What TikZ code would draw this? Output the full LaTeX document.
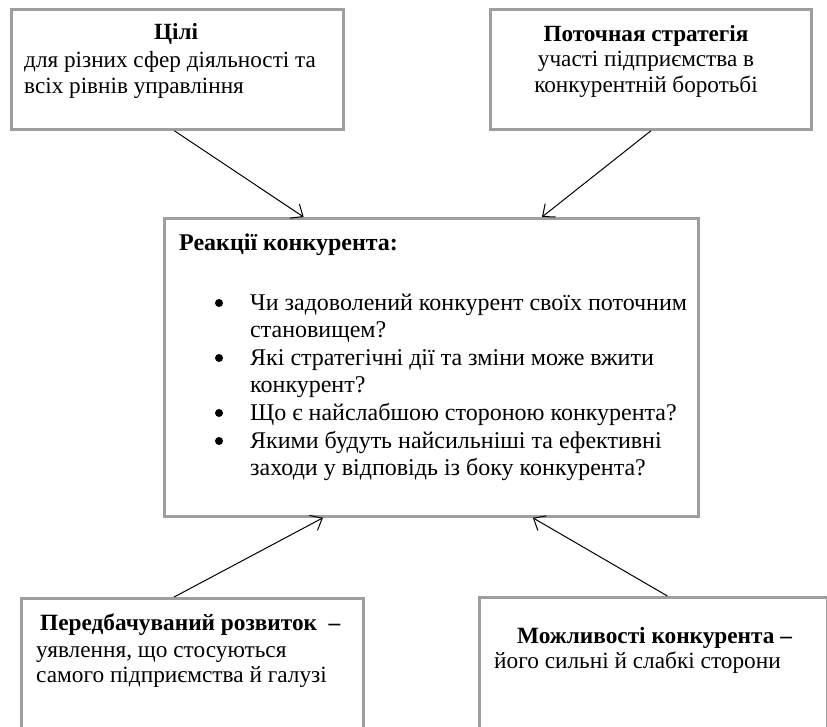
\documentclass[tikz,border=0pt]{standalone}
\usepackage{fontspec}
\setmainfont{Liberation Serif}
\usetikzlibrary{arrows.meta,calc}
\begin{document}
\begin{tikzpicture}[x=1pt,y=-1pt,
  box/.style={draw=black!38, line width=2.8pt, rectangle, inner sep=0pt, anchor=north west},
  conn/.style={draw=black, line width=1pt, -{Straight Barb[length=10pt,width=17pt,line width=1pt]}},
  small/.style={inner sep=0pt, font=\fontsize{23.2}{26}\selectfont},
  smallb/.style={inner sep=0pt, font=\fontsize{23.2}{26}\selectfont\bfseries},
  big/.style={inner sep=0pt, font=\fontsize{24}{27.5}\selectfont},
  bigb/.style={inner sep=0pt, font=\fontsize{24}{27.5}\selectfont\bfseries},
  bul/.style={circle, fill=black, inner sep=0pt, minimum size=8pt},
  mid/.style={inner sep=0pt, font=\fontsize{23.3}{26}\selectfont},
  midb/.style={inner sep=0pt, font=\fontsize{23.3}{26}\selectfont\bfseries}]
\useasboundingbox (0,0) rectangle (827,726);
\fill[white] (0,0) rectangle (827,726);
% boxes
\node[box, minimum width=332pt, minimum height=120pt] (tl) at (10,8) {};
\node[box, minimum width=321pt, minimum height=120pt] (tr) at (489,8) {};
\node[box, minimum width=534pt, minimum height=298pt] (c) at (163,217) {};
\node[box, minimum width=342pt, minimum height=134pt] (bl) at (20,597) {};
\node[box, minimum width=348pt, minimum height=134pt] (br) at (478,596) {};
% texts top-left
\node[smallb, anchor=base] (tl1) at (176,39.5) {Цілі};
\node[small, anchor=base west] (tl2) at (24,67.5) {для різних сфер діяльності та};
\node[small, anchor=base west] (tl3) at (24,93.5) {всіх рівнів управління};
% texts top-right
\node[smallb, anchor=base] (tr1) at (646,41) {Поточная стратегія};
\node[small, anchor=base] (tr2) at (646,66) {участі підприємства в};
\node[small, anchor=base] (tr3) at (646,92) {конкурентній боротьбі};
% center
\node[bigb, anchor=base west] (ct) at (179,250) {Реакції конкурента:};
\foreach \y/\n in {310/1,365/2,420/3,448/4}{\node[bul] (b\n) at (219,\y-7) {};}
\node[big, anchor=base west] (l1) at (250,310) {Чи задоволений конкурент своїх поточним};
\node[big, anchor=base west] (l2) at (250,337.5) {становищем?};
\node[big, anchor=base west] (l3) at (250,365) {Які стратегічні дії та зміни може вжити};
\node[big, anchor=base west] (l4) at (250,392.5) {конкурент?};
\node[big, anchor=base west] (l5) at (250,420) {Що є найслабшою стороною конкурента?};
\node[big, anchor=base west] (l6) at (250,448) {Якими будуть найсильніші та ефективні};
\node[big, anchor=base west] (l7) at (250,475.5) {заходи у відповідь із боку конкурента?};
% bottom-left
\node[midb, anchor=base west] (bl1) at (40,630) {Передбачуваний розвиток\ \ –};
\node[mid, anchor=base west] (bl2) at (36,657.5) {уявлення, що стосуються};
\node[mid, anchor=base west] (bl3) at (36,682.7) {самого підприємства й галузі};
% bottom-right
\node[midb, anchor=base west] (br1) at (517,643.3) {Можливості конкурента –};
\node[mid, anchor=base west] (br2) at (494,668.3) {його сильні й слабкі сторони};
% connectors
\draw[conn] ($(tl.south west)!0.491!(tl.south east)$) -- ($(c.north west)!0.262!(c.north east)$);
\draw[conn] ($(tr.south west)!0.50!(tr.south east)$) -- ($(c.north west)!0.706!(c.north east)$);
\draw[conn] ($(bl.north west)!0.447!(bl.north east)$) -- ($(c.south west)!0.298!(c.south east)$);
\draw[conn] ($(br.north west)!0.54!(br.north east)$) -- ($(c.south west)!0.689!(c.south east)$);
\end{tikzpicture}
\end{document}
